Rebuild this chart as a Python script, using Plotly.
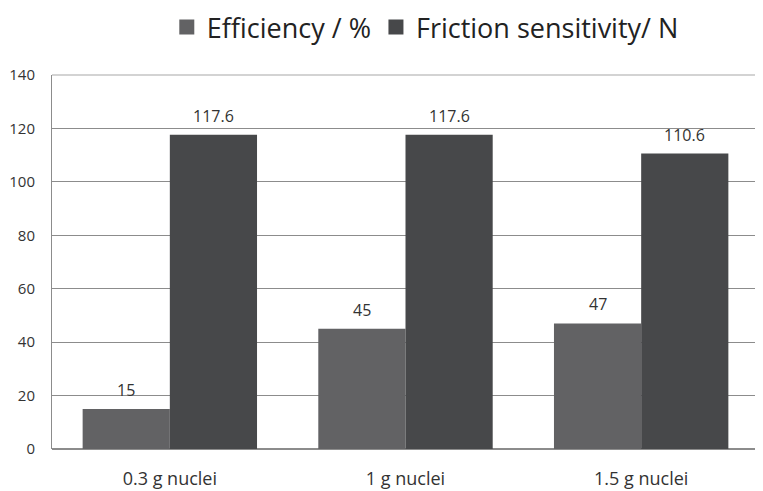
import plotly.graph_objects as go

categories = ["0.3 g nuclei", "1 g nuclei", "1.5 g nuclei"]
efficiency = [15, 45, 47]
friction = [117.6, 117.6, 110.6]
eff_labels = ["15", "45", "47"]
fric_labels = ["117.6", "117.6", "110.6"]
y_ticks = [0, 20, 40, 60, 80, 100, 120, 140]
series_names = ["Efficiency / %", "Friction sensitivity/ N"]

font_fam = "Open Sans, Arial, sans-serif"
eff_color = "#626264"
fric_color = "#47484a"
bargap = 0.26

# page body has an 8px margin; size the figure to fit the 763x491 window
W, H = 755, 483
ml, mr, mt, mb = 44, 4, 67, 42
plot_w = W - ml - mr
plot_h = H - mt - mb

fig = go.Figure()
fig.add_trace(go.Bar(
    x=categories, y=efficiency, name=series_names[0], showlegend=False,
    marker=dict(color=eff_color, line=dict(width=0)), legendgroup="a",
))
fig.add_trace(go.Bar(
    x=categories, y=friction, name=series_names[1], showlegend=False,
    marker=dict(color=fric_color, line=dict(width=0)), legendgroup="b",
))
# legend entries with larger square swatches
for nm, col, grp in [(series_names[0], eff_color, "a"), (series_names[1], fric_color, "b")]:
    fig.add_trace(go.Scatter(
        x=[None], y=[None], mode="markers", name=nm, legendgroup=grp,
        marker=dict(symbol="square", size=15, color=col, line=dict(width=0)),
    ))

# value labels above bars (offset by half a bar width)
cat_px = plot_w / len(categories)
half_bar = cat_px * (1 - bargap) / 4
for vals, labs, sgn in [(efficiency, eff_labels, -1), (friction, fric_labels, 1)]:
    for c, v, t in zip(categories, vals, labs):
        fig.add_annotation(x=c, y=v, text=t, showarrow=False,
                           xshift=sgn * half_bar, yshift=19, yanchor="middle",
                           font=dict(size=16, color="#333333", family=font_fam))

# lighter top border line
fig.add_shape(type="line", xref="paper", yref="paper", x0=0, x1=1, y0=1, y1=1,
              line=dict(color="#c4c4c4", width=1.5), layer="above")

fig.update_layout(
    width=W, height=H,
    margin=dict(l=ml, r=mr, t=mt, b=mb, autoexpand=False),
    paper_bgcolor="white", plot_bgcolor="white",
    barmode="group", bargap=bargap, bargroupgap=0,
    font=dict(family=font_fam, color="#333333"),
    showlegend=True,
    legend=dict(orientation="h", x=0.528, xanchor="center",
                y=1 + (mt + 5) / plot_h, yanchor="top", yref="paper",
                font=dict(size=27, color="#222222"),
                itemwidth=30, traceorder="normal", itemsizing="trace"),
)
fig.update_xaxes(showline=False, tickfont=dict(size=18, color="#333333"),
                 ticks="", ticklabelstandoff=17, automargin=False)
fig.update_yaxes(range=[0, 140], tickvals=y_ticks, showgrid=True,
                 gridcolor="#8c8c8c", gridwidth=1,
                 showline=True, linecolor="#8c8c8c", linewidth=1,
                 zeroline=True, zerolinecolor="#8c8c8c",
                 tickfont=dict(size=15, color="#333333"), ticks="",
                 ticklabelstandoff=13, automargin=False)

fig.write_html("out.html")
